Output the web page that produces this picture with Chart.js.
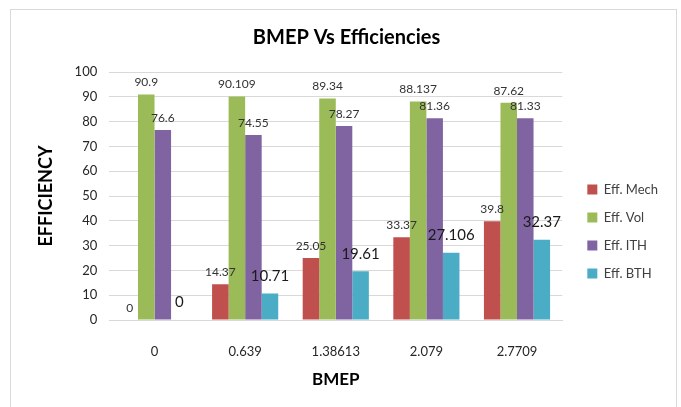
<!DOCTYPE html>
<html>
<head>
<meta charset="utf-8">
<script src="https://cdn.jsdelivr.net/npm/chart.js@4.4.1/dist/chart.umd.min.js"></script>
<style>
  html, body { margin: 0; padding: 0; background: #fff; }
  .frame { position: absolute; left: 10px; top: 9px; width: 665px; height: 420px; border: 1px solid #d9d9d9; }
  .wrap { position: absolute; left: 0; top: 0; width: 681px; height: 407px; }
</style>
</head>
<body>
<div class="frame"></div>
<div class="wrap"><canvas id="chart"></canvas></div>
<script>
const bmep = ['0', '0.639', '1.38613', '2.079', '2.7709'];
const effMech = [0, 14.37, 25.05, 33.37, 39.8];
const effVol = [90.9, 90.109, 89.34, 88.137, 87.62];
const effIth = [76.6, 74.55, 78.27, 81.36, 81.33];
const effBth = [0, 10.71, 19.61, 27.106, 32.37];
const yMin = 0, yMax = 100, yStep = 10;

Chart.defaults.font.family = 'Lato';

// numbers above each bar, BTH ones printed bigger
const valueLabels = {
    id: 'valueLabels',
    afterDatasetsDraw(chart) {
        const ctx = chart.ctx;
        chart.data.datasets.forEach((ds, i) => {
            const meta = chart.getDatasetMeta(i);
            const big = ds.label === 'Eff. BTH';
            ctx.save();
            ctx.font = big ? '15px Lato' : '12px Lato';
            ctx.fillStyle = big ? '#1a1a1a' : '#333333';
            ctx.textAlign = 'center';
            ctx.textBaseline = 'bottom';
            meta.data.forEach((bar, j) => {
                ctx.fillText(String(ds.data[j]), bar.x, bar.y - (big ? 10 : 6));
            });
            ctx.restore();
        });
    }
};

const chart = document.querySelector('#chart').getContext('2d');

new Chart(chart, {
    type: 'bar',
    data: {
        labels: bmep,
        datasets: [
            { label: 'Eff. Mech', data: effMech, backgroundColor: '#C0504D' },
            { label: 'Eff. Vol', data: effVol, backgroundColor: '#9BBB59' },
            { label: 'Eff. ITH', data: effIth, backgroundColor: '#8064A2' },
            { label: 'Eff. BTH', data: effBth, backgroundColor: '#4BACC6' }
        ]
    },
    options: {
        responsive: true,
        maintainAspectRatio: false,
        animation: false,
        categoryPercentage: 0.73,
        barPercentage: 1.0,
        layout: { padding: { left: 25, right: 13, top: 14, bottom: 13 } },
        scales: {
            x: {
                grid: { display: false, drawTicks: false },
                border: { color: '#d9d9d9' },
                ticks: { padding: 24, color: '#262626', font: { size: 13 } },
                title: { display: true, text: 'BMEP', color: '#000', font: { size: 17, weight: 'bold' }, padding: { top: -14, bottom: 4 } }
            },
            y: {
                min: yMin,
                max: yMax,
                grid: { color: '#d9d9d9', drawTicks: false },
                border: { display: false },
                ticks: { stepSize: yStep, padding: 12, color: '#262626', font: { size: 13 } },
                title: { display: true, text: 'EFFICIENCY', color: '#000', font: { size: 18, weight: 'bold' }, padding: { top: 10, bottom: 6 } }
            },
            gap: {
                position: 'right',
                display: true,
                ticks: { display: false },
                grid: { display: false },
                border: { display: false },
                afterFit: (s) => { s.width = 10; }
            }
        },
        plugins: {
            title: {
                display: true,
                text: 'BMEP Vs Efficiencies',
                color: '#000',
                font: { size: 20, weight: 'bold' },
                padding: { top: 12, bottom: 22 }
            },
            legend: {
                position: 'right',
                title: { display: true, text: ' ', font: { size: 10 }, padding: { top: 0, bottom: 43 } },
                labels: { boxWidth: 10, boxHeight: 10, padding: 15, color: '#404040', font: { size: 13 } }
            },
            tooltip: { enabled: false }
        }
    },
    plugins: [valueLabels]
})
</script>
</body>
</html>
